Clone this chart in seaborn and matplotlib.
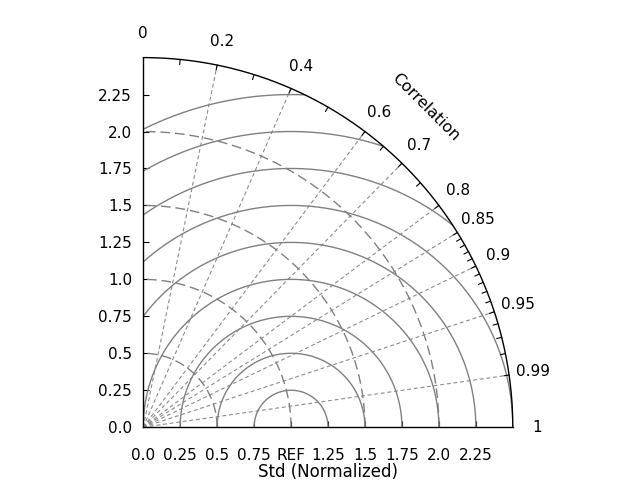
import numpy as np
import pandas as pd
import matplotlib
matplotlib.use("Agg")
import matplotlib.pyplot as plt
import seaborn as sns

# ---------------- data ----------------
std_max = 2.5
ref_std = 1.0
std_ticks = [0.0, 0.25, 0.5, 0.75, 1.0, 1.25, 1.5, 1.75, 2.0, 2.25]
x_tick_labels = ["0.0", "0.25", "0.5", "0.75", "REF", "1.25", "1.5", "1.75", "2.0", "2.25"]
y_tick_labels = ["0.0", "0.25", "0.5", "0.75", "1.0", "1.25", "1.5", "1.75", "2.0", "2.25"]
corr_labels = [0.0, 0.2, 0.4, 0.6, 0.7, 0.8, 0.85, 0.9, 0.95, 0.99, 1.0]
corr_label_text = ["0", "0.2", "0.4", "0.6", "0.7", "0.8", "0.85", "0.9", "0.95", "0.99", "1"]
corr_minor = [0.1, 0.2, 0.3, 0.4, 0.5, 0.6, 0.65, 0.7, 0.75, 0.8, 0.85,
              0.86, 0.87, 0.88, 0.89, 0.9, 0.91, 0.92, 0.93, 0.94, 0.95,
              0.96, 0.97, 0.98, 0.99]
corr_grid = [0.2, 0.4, 0.6, 0.7, 0.8, 0.85, 0.9, 0.95, 0.99]
std_arcs = [0.5, 1.0, 1.5, 2.0]
rms_levels = [0.25, 0.5, 0.75, 1.0, 1.25, 1.5, 1.75, 2.0, 2.25]

# ---------------- style ----------------
sns.set_theme(style="white", rc={
    "axes.edgecolor": "black",
    "text.color": "black",
    "xtick.color": "black",
    "ytick.color": "black",
    "axes.labelcolor": "black",
})
plt.rcParams["font.family"] = ["DejaVu Sans"]

fig, ax = plt.subplots(figsize=(6.4, 4.8), dpi=100)
ax.set_aspect("equal")

# ---------------- geometry tables ----------------
def arc_df(radii, t0, t1, n=400):
    rows = []
    t = np.linspace(t0, t1, n)
    for i, r in enumerate(radii):
        rows.append(pd.DataFrame({"x": r * np.cos(t), "y": r * np.sin(t), "id": i}))
    return pd.concat(rows, ignore_index=True)

# RMS contours centered on reference
rms_rows = []
for i, r in enumerate(rms_levels):
    phi = np.linspace(0, np.pi, 2000)
    x = ref_std + r * np.cos(phi)
    y = r * np.sin(phi)
    m = (x >= 0) & (x**2 + y**2 <= std_max**2 + 1e-9)
    rms_rows.append(pd.DataFrame({"x": x[m], "y": y[m], "id": i}))
rms_df = pd.concat(rms_rows, ignore_index=True)

std_df = arc_df(std_arcs, 0, np.pi / 2)
outer_df = arc_df([std_max], 0, np.pi / 2)

rad_rows = []
for i, c in enumerate(corr_grid):
    th = np.arccos(c)
    rad_rows.append(pd.DataFrame({"x": [0, std_max * np.cos(th)],
                                  "y": [0, std_max * np.sin(th)], "id": i}))
rad_df = pd.concat(rad_rows, ignore_index=True)

tick_rows = []
for i, c in enumerate(corr_minor):
    th = np.arccos(c)
    rr = np.array([std_max - 0.035, std_max])
    tick_rows.append(pd.DataFrame({"x": rr * np.cos(th), "y": rr * np.sin(th), "id": i}))
tick_df = pd.concat(tick_rows, ignore_index=True)

kw = dict(x="x", y="y", units="id", estimator=None, sort=False, legend=False, ax=ax)
sns.lineplot(data=rad_df, color="0.55", linewidth=0.8, linestyle=(0, (3.5, 2.5)), **kw)
sns.lineplot(data=std_df, color="0.5", linewidth=1.0, linestyle=(0, (7, 3.5)), **kw)
sns.lineplot(data=rms_df, color="0.5", linewidth=1.0, **kw)
sns.lineplot(data=outer_df, color="black", linewidth=1.0, clip_on=False, **kw)
sns.lineplot(data=tick_df, color="black", linewidth=0.8, **kw)

# ---------------- axes ----------------
ax.set_xlim(0, std_max)
ax.set_ylim(0, std_max)
ax.spines["top"].set_visible(False)
ax.spines["right"].set_visible(False)
for s in ("left", "bottom"):
    ax.spines[s].set_linewidth(1.0)
    ax.spines[s].set_color("black")

ax.set_xticks(std_ticks)
ax.set_xticklabels(x_tick_labels)
ax.set_yticks(std_ticks)
ax.set_yticklabels(y_tick_labels)
ax.tick_params(axis="both", direction="in", length=4, width=0.8, labelsize=11,
               left=True, bottom=True)
ax.tick_params(axis="x", pad=15)
ax.tick_params(axis="y", pad=8)
ax.set_xlabel("Std (Normalized)", fontsize=12, labelpad=-0.3)
ax.set_ylabel("")

# correlation labels
r_lab = 2.665
for c, t in zip(corr_labels, corr_label_text):
    th = np.arccos(c)
    ax.text(r_lab * np.cos(th), r_lab * np.sin(th), t, ha="center", va="center",
            fontsize=11, clip_on=False)

th_c = np.deg2rad(48.6)
ax.text(2.89 * np.cos(th_c), 2.89 * np.sin(th_c), "Correlation", rotation=-45,
        rotation_mode="anchor", ha="center", va="center", fontsize=11.5, clip_on=False)

fig.savefig("out.png", dpi=100)
